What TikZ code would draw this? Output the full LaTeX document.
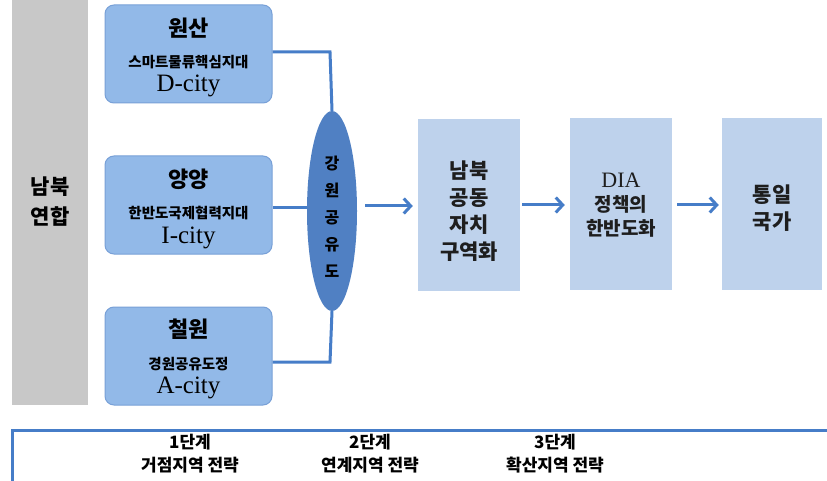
\documentclass[tikz,border=0pt]{standalone}
\usepackage{fontspec}
\setmainfont{Liberation Serif}
\newfontfamily\kr{Noto Sans CJK KR}
\usetikzlibrary{shapes.geometric,arrows.meta}
\definecolor{cityfill}{RGB}{146,185,232}
\definecolor{cityline}{RGB}{120,160,215}
\definecolor{ellfill}{RGB}{80,128,195}
\definecolor{stepfill}{RGB}{190,210,236}
\definecolor{barfill}{RGB}{200,200,200}
\definecolor{linkblue}{RGB}{70,125,200}
\definecolor{txt}{RGB}{30,30,30}
\tikzset{
  citybox/.style={draw=cityline,line width=1pt,fill=cityfill,rounded corners=9pt,minimum width=167pt,minimum height=98pt,inner sep=0pt},
  stagebox/.style={fill=stepfill,minimum width=102pt,minimum height=172pt,inner sep=0pt},
  stagetext/.style={align=center,text=txt,font=\kr\bfseries\fontsize{21}{27}\selectfont},
  link/.style={draw=linkblue,line width=3pt},
  arr/.style={link,-{Straight Barb[length=7pt,width=15pt,line width=3pt]}},
  title/.style={font=\kr\bfseries\fontsize{22}{24}\selectfont},
  sub/.style={font=\kr\bfseries\fontsize{14.5}{16}\selectfont},
  latin/.style={font=\fontsize{25}{26}\selectfont},
  steplabel/.style={align=center,font=\kr\bfseries\fontsize{17}{23}\selectfont}
}
\begin{document}
\begin{tikzpicture}[x=1pt,y=-1pt]
\useasboundingbox (0,0) rectangle (827,481);
\fill[white] (0,0) rectangle (827,481);
% left bar
\node[fill=barfill,minimum width=76pt,minimum height=405pt,inner sep=0pt] (bar) at (50,202.5) {};
\node[align=center,font=\kr\bfseries\fontsize{21}{30}\selectfont] (barlbl) at (50,202) {남북\\연합};
% city boxes
\node[citybox] (b1) at (188.5,54) {};
\node[title] (t1) at (188.5,28) {원산};
\node[sub] (s1) at (188.5,62) {스마트물류핵심지대};
\node[latin] (l1) at (188.5,86) {D-city};
\node[citybox] (b2) at (188.5,205) {};
\node[title] (t2) at (188.5,179) {양양};
\node[sub] (s2) at (188.5,213) {한반도국제협력지대};
\node[latin] (l2) at (188.5,238) {I-city};
\node[citybox] (b3) at (188.5,356) {};
\node[title] (t3) at (188.5,329) {철원};
\node[sub] (s3) at (188.5,364) {경원공유도정};
\node[latin] (l3) at (188.5,388) {A-city};
% ellipse
\node[ellipse,fill=ellfill,minimum width=50pt,minimum height=200pt,inner sep=0pt] (ell) at (332,211) {};
\node[align=center,font=\kr\bfseries\fontsize{16}{27}\selectfont] (elllbl) at (332,217) {강\\원\\공\\유\\도};
% connectors
\coordinate (c1) at (330,52);
\coordinate (c3) at (330,362);
\draw[link] (b1.east |- c1) -- (c1) -- (ell.north);
\draw[link] (b3.east |- c3) -- (c3) -- (ell.south);
\draw[link] (b2.east |- 0,208) -- (ell.west |- 0,208);
% stage boxes
\node[stagebox] (n1) at (469,205) {};
\node[stagetext] (n1t) at (469,211) {남북\\공동\\자치\\구역화};
\node[stagebox] (n2) at (621,204) {};
\node[stagetext,font=\kr\bfseries\fontsize{19}{24}\selectfont] (n2t) at (621,205) {{\normalfont\fontsize{22}{24}\selectfont DIA}\\정책의\\한반도화};
\node[stagebox,minimum width=100pt] (n3) at (772,204) {};
\node[stagetext] (n3t) at (772,208) {통일\\국가};
\draw[arr] ([xshift=8pt]ell.east |- 0,206) -- ([xshift=-5pt]n1.west |- 0,206);
\draw[arr] ([xshift=2pt]n1.east |- 0,205) -- ([xshift=-5pt]n2.west |- 0,205);
\draw[arr] ([xshift=5pt]n2.east |- 0,205) -- ([xshift=-3pt]n3.west |- 0,205);
% bottom bracket
\coordinate (br0) at (12,481);
\coordinate (br1) at (12,430);
\coordinate (br2) at (827,430);
\draw[link] (br0) -- (br1) -- (br2);
\node[steplabel] (st1) at (190,454) {1단계\\거점지역 전략};
\node[steplabel] (st2) at (370,454) {2단계\\연계지역 전략};
\node[steplabel] (st3) at (555,454) {3단계\\확산지역 전략};
\end{tikzpicture}
\end{document}
